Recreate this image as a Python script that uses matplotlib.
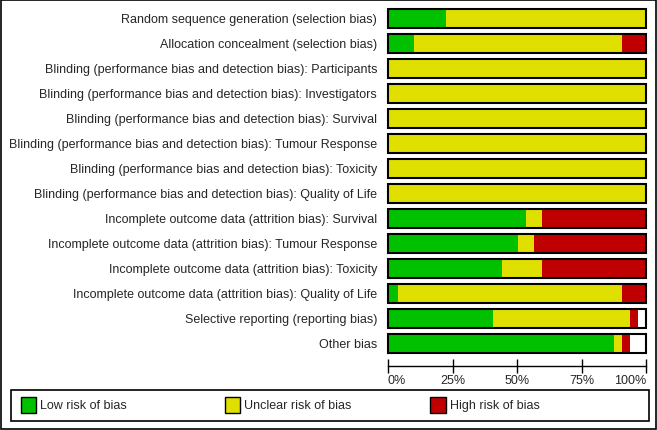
import matplotlib
matplotlib.use("Agg")
import matplotlib.pyplot as plt
from matplotlib.patches import Rectangle

plt.rcParams['font.family'] = ['Liberation Sans', 'DejaVu Sans']

categories = [
    "Random sequence generation (selection bias)",
    "Allocation concealment (selection bias)",
    "Blinding (performance bias and detection bias): Participants",
    "Blinding (performance bias and detection bias): Investigators",
    "Blinding (performance bias and detection bias): Survival",
    "Blinding (performance bias and detection bias): Tumour Response",
    "Blinding (performance bias and detection bias): Toxicity",
    "Blinding (performance bias and detection bias): Quality of Life",
    "Incomplete outcome data (attrition bias): Survival",
    "Incomplete outcome data (attrition bias): Tumour Response",
    "Incomplete outcome data (attrition bias): Toxicity",
    "Incomplete outcome data (attrition bias): Quality of Life",
    "Selective reporting (reporting bias)",
    "Other bias",
]
low     = [22.3, 10.0, 0, 0, 0, 0, 0, 0, 53.5, 50.5, 44.3, 3.7, 40.8, 87.5]
unclear = [77.7, 80.6, 100, 100, 100, 100, 100, 100, 6.2, 6.1, 15.4, 86.9, 52.9, 3.1]
high    = [0, 9.4, 0, 0, 0, 0, 0, 0, 40.3, 43.4, 40.3, 9.4, 3.1, 3.1]
tick_values = [0, 25, 50, 75, 100]
tick_labels = ["0%", "25%", "50%", "75%", "100%"]
legend_labels = ["Low risk of bias", "Unclear risk of bias", "High risk of bias"]
colors = ["#00C000", "#E0E000", "#C00000"]

W, H = 657, 431
fig = plt.figure(figsize=(W / 100, H / 100), dpi=100)

def fx(x):
    return x / W

def fy(y):
    return 1 - y / H

ax_left, ax_right, ax_top, ax_bot = 388, 646, 7.3, 366.5
ax = fig.add_axes([fx(ax_left), fy(ax_bot), (ax_right - ax_left) / W, (ax_bot - ax_top) / H])
n = len(categories)
ax.set_xlim(0, 100)
ax.set_ylim(13 + (ax_bot - 344.8) / 25, -0.5)

bh = 0.76
for i in range(n):
    left = 0
    for vals, c in zip([low, unclear, high], colors):
        v = vals[i]
        if v > 0:
            ax.barh(i, v, left=left, height=bh, color=c, edgecolor='none', linewidth=0)
        left += v
    ax.add_patch(Rectangle((0, i - bh / 2), 100, bh, fill=False, edgecolor='black',
                           linewidth=1.5, clip_on=False, zorder=3))
    ax.text(-4.2, i, categories[i], ha='right', va='center', fontsize=9, color='#262626')

for s in ['top', 'left', 'right']:
    ax.spines[s].set_visible(False)
ax.spines['bottom'].set_linewidth(1.0)
ax.set_yticks([])
ax.set_xticks(tick_values)
ax.set_xticklabels(tick_labels, fontsize=9, color='#262626')
ax.tick_params(axis='x', direction='inout', length=10, width=1, pad=1)
for lbl, ha in zip(ax.get_xticklabels(), ['left', 'center', 'center', 'center', 'right']):
    lbl.set_ha(ha)

# outer border
fig.patches.append(Rectangle((fx(0.5), fy(H - 1.5)), (W - 2) / W, (H - 2) / H, transform=fig.transFigure,
                             fill=False, edgecolor='black', linewidth=1.2))
# legend box
fig.patches.append(Rectangle((fx(10.5), fy(421.7)), (649 - 10.5) / W, (421.7 - 390.5) / H,
                             transform=fig.transFigure, fill=False, edgecolor='black', linewidth=1.2))
patch_x = [20.5, 224.5, 430]
for px, c, lab in zip(patch_x, colors, legend_labels):
    fig.patches.append(Rectangle((fx(px), fy(413.5)), 15.5 / W, 15.5 / H, transform=fig.transFigure,
                                 facecolor=c, edgecolor='black', linewidth=1.0))
    fig.text(fx(px + 20), fy(406.3), lab, ha='left', va='center', fontsize=9, color='#262626')

fig.savefig("out.png", dpi=100)
